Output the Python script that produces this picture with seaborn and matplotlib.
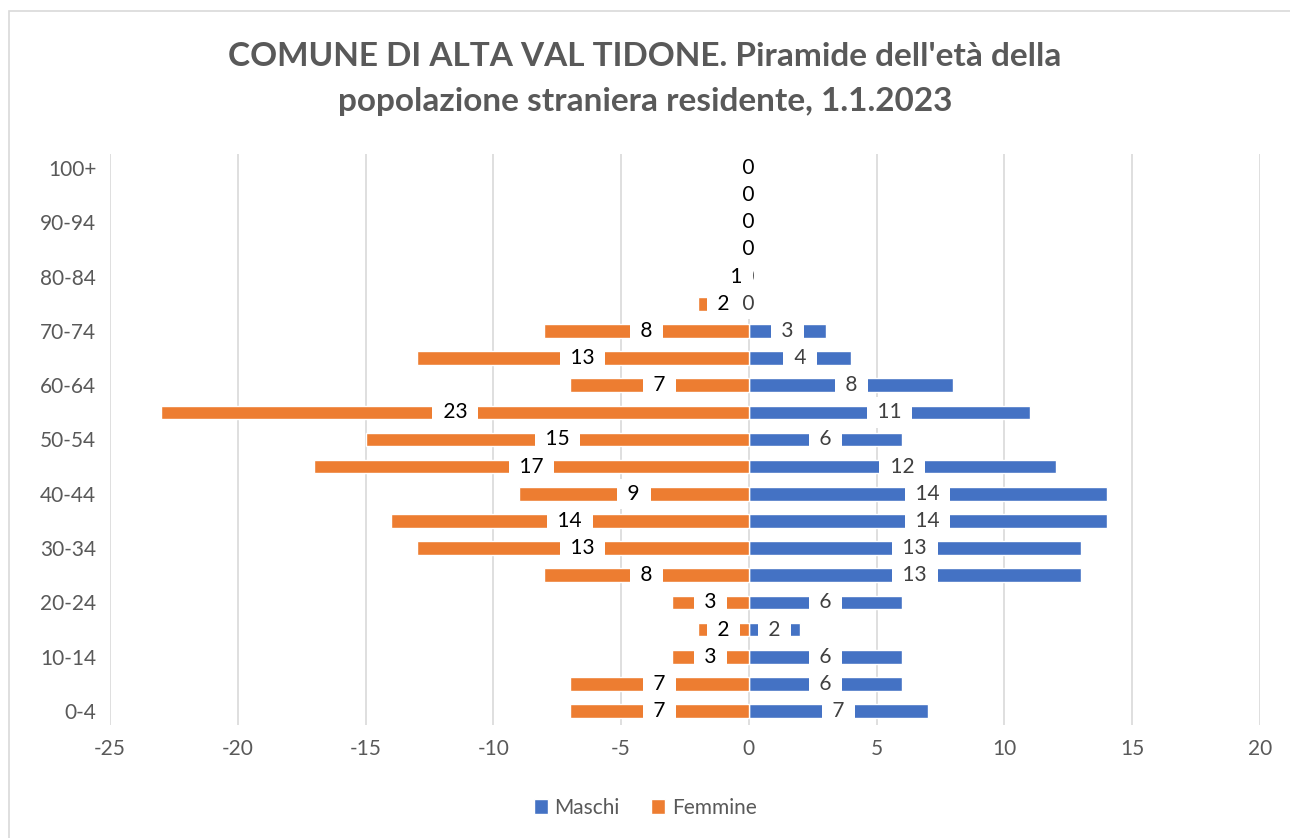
import matplotlib.pyplot as plt
import seaborn as sns
from matplotlib.patches import Patch, Rectangle

# Age groups from top (100+) down to 0-4
AGE_GROUPS = [
    "100+", "95-99", "90-94", "85-89", "80-84", "75-79", "70-74", "65-69",
    "60-64", "55-59", "50-54", "45-49", "40-44", "35-39", "30-34", "25-29",
    "20-24", "15-19", "10-14", "5-9", "0-4",
]
MASCHI = [0, 0, 0, 0, 0, 0, 3, 4, 8, 11, 6, 12, 14, 14, 13, 13, 6, 2, 6, 6, 7]
FEMMINE = [0, 0, 0, 0, 1, 2, 8, 13, 7, 23, 15, 17, 9, 14, 13, 8, 3, 2, 3, 7, 7]
SHOWN_LABELS = ["100+", "90-94", "80-84", "70-74", "60-64", "50-54",
                "40-44", "30-34", "20-24", "10-14", "0-4"]
X_TICKS = [-25, -20, -15, -10, -5, 0, 5, 10, 15, 20]

BLUE = "#4472C4"
ORANGE = "#ED7D31"
GRAY = "#595959"

sns.set_theme(style="white")
plt.rcParams["font.family"] = ["Lato", "DejaVu Sans"]

fig = plt.figure(figsize=(12.9, 8.38), dpi=100)
ax = fig.add_axes([0.0853, 0.1353, 0.8914, 0.6805])

sns.barplot(x=MASCHI, y=AGE_GROUPS, orient="h", color=BLUE, width=0.5,
            saturation=1, ax=ax, zorder=2)
sns.barplot(x=[-v for v in FEMMINE], y=AGE_GROUPS, orient="h", color=ORANGE,
            width=0.5, saturation=1, ax=ax, zorder=2)

box = dict(boxstyle="square,pad=0.25", facecolor="white", edgecolor="none")
male_bars, female_bars = ax.containers[0], ax.containers[1]
ax.bar_label(male_bars, labels=[f" {v} " for v in MASCHI], label_type="center",
             fontsize=15, color="#404040", bbox=box, zorder=3)
ax.bar_label(female_bars, labels=[f" {v} " for v in FEMMINE], label_type="center",
             fontsize=15, color="black", bbox=box, zorder=4)

ax.set_xlim(-25, 20)
ax.set_ylim(len(AGE_GROUPS) - 0.5, -0.5)
ax.set_xticks(X_TICKS)
ax.set_xticklabels([str(t) for t in X_TICKS], fontsize=15, color=GRAY)
ax.set_yticks(range(len(AGE_GROUPS)))
ax.set_yticklabels([a if a in SHOWN_LABELS else "" for a in AGE_GROUPS],
                   fontsize=15, color=GRAY)
ax.tick_params(axis="both", length=0, pad=10)
ax.set_xlabel("")
ax.set_ylabel("")
ax.grid(axis="x", color="#D9D9D9", linewidth=1.2, zorder=0)
ax.set_axisbelow(True)
for s in ax.spines.values():
    s.set_visible(False)

fig.text(0.5, 1 - 57 / 838, "COMUNE DI ALTA VAL TIDONE. Piramide dell'età della",
         ha="center", va="center", fontsize=24, fontweight="bold", color=GRAY)
fig.text(0.5, 1 - 102 / 838, "popolazione straniera residente, 1.1.2023",
         ha="center", va="center", fontsize=24, fontweight="bold", color=GRAY)

handles = [Patch(facecolor=BLUE, label="Maschi"), Patch(facecolor=ORANGE, label="Femmine")]
fig.legend(handles=handles, loc="center", bbox_to_anchor=(0.5, 1 - 808 / 838), ncol=2,
           frameon=False, fontsize=15, labelcolor=GRAY, handlelength=0.7,
           handleheight=0.7, handletextpad=0.3, columnspacing=1.5)

fig.patches.append(Rectangle((9 / 1290, -0.1), 1.2, 1 - 11 / 838 + 0.1,
                             transform=fig.transFigure, fill=False,
                             edgecolor="#D9D9D9", linewidth=1.2))

fig.savefig("out.png", dpi=100)
